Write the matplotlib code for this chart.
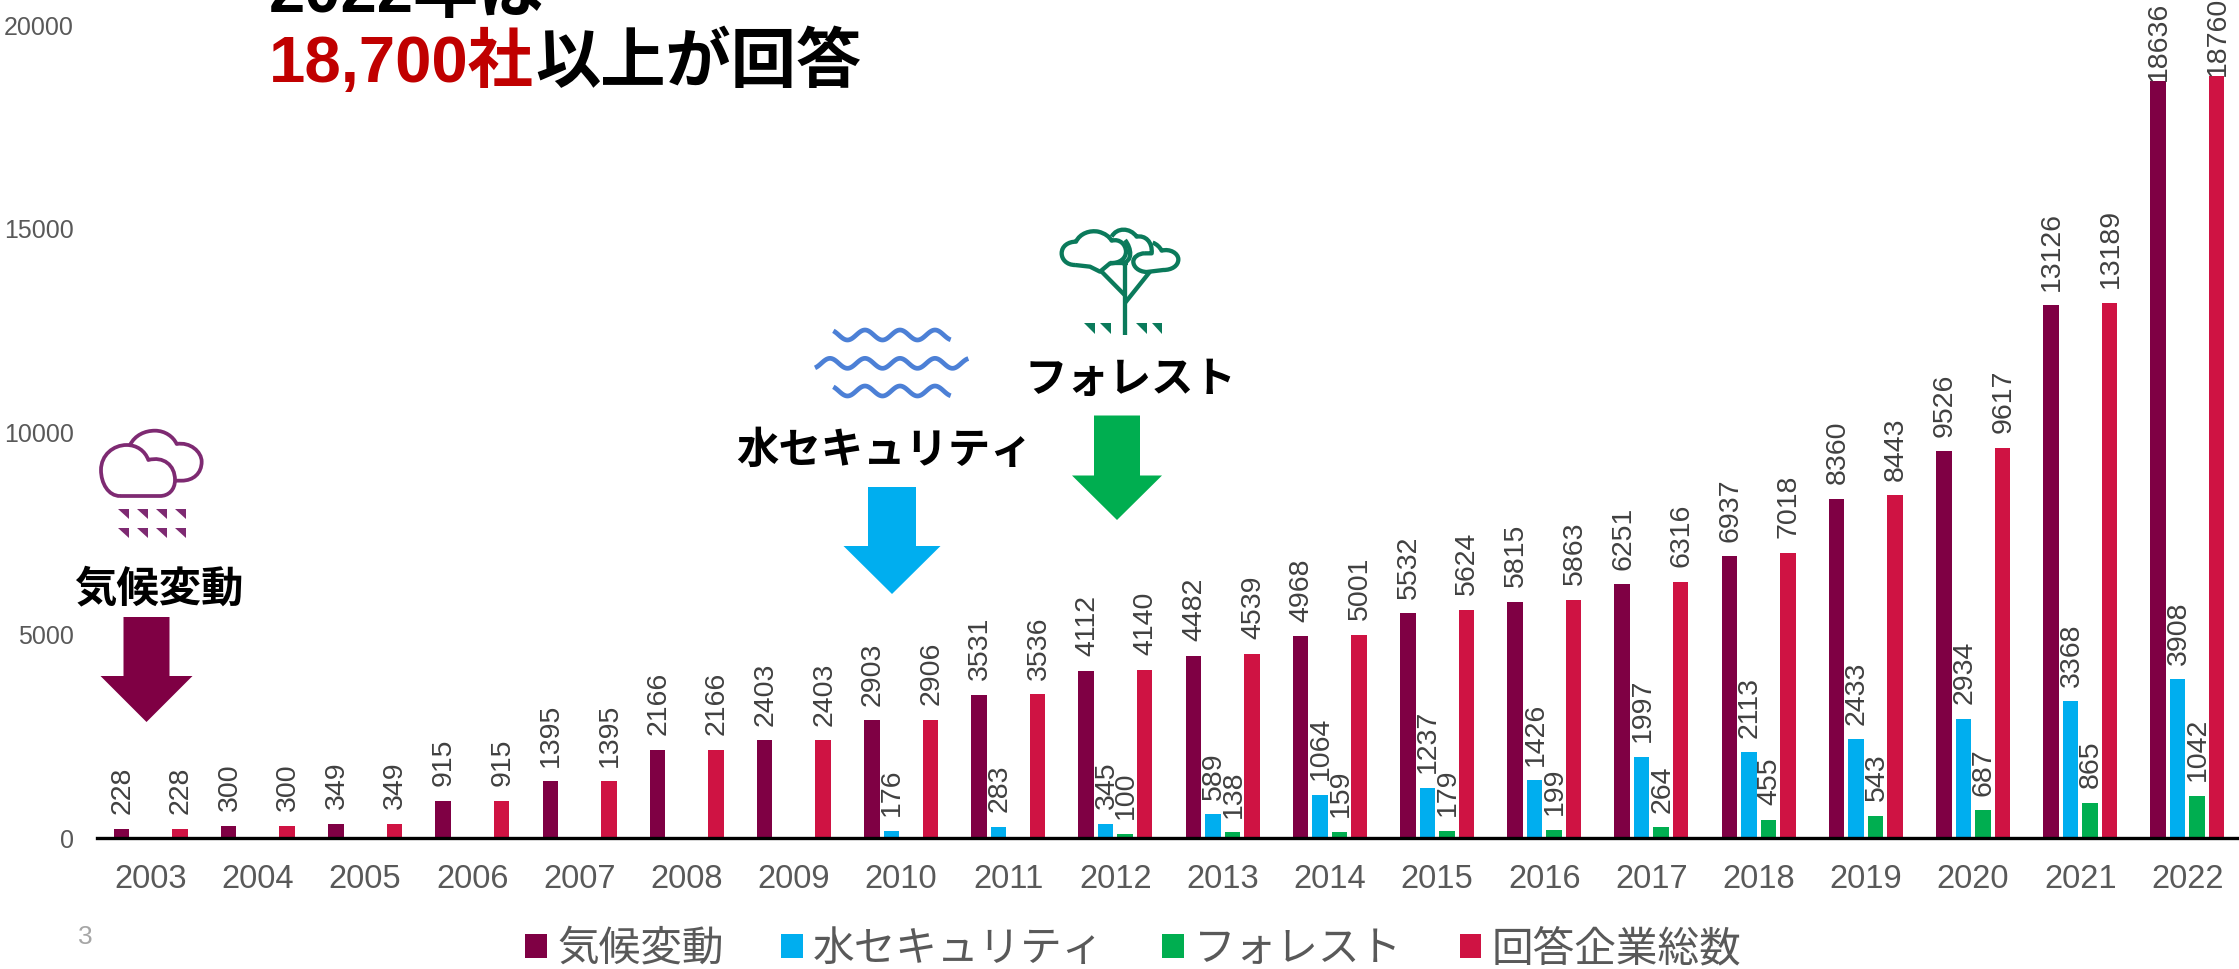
import matplotlib
matplotlib.use("Agg")
import matplotlib.pyplot as plt
import numpy as np
from matplotlib.path import Path
from matplotlib.patches import PathPatch, Polygon

plt.rcParams['font.family'] = ['Liberation Sans', 'Noto Sans CJK JP', 'DejaVu Sans']

W, H = 2239, 969

years = list(range(2003, 2023))
climate = [228, 300, 349, 915, 1395, 2166, 2403, 2903, 3531, 4112,
           4482, 4968, 5532, 5815, 6251, 6937, 8360, 9526, 13126, 18636]
water = [None] * 7 + [176, 283, 345, 589, 1064, 1237, 1426, 1997,
                      2113, 2433, 2934, 3368, 3908]
forest = [None] * 9 + [100, 138, 159, 179, 199, 264, 455, 543, 687, 865, 1042]
total = [228, 300, 349, 915, 1395, 2166, 2403, 2906, 3536, 4140,
         4539, 5001, 5624, 5863, 6316, 7018, 8443, 9617, 13189, 18760]
series_names = ['気候変動', '水セキュリティ', 'フォレスト', '回答企業総数']

PLUM = '#7F0044'
SKY = '#00AEEF'
GREEN = '#00AE50'
CRIMSON = '#CF1343'
GREY = '#595959'

fig = plt.figure(figsize=(W / 100, H / 100), dpi=100, facecolor='white')
ax = fig.add_axes([97.15 / W, (H - 838) / H, (2241 - 97.15) / W, 812 / H])

BAR_W = 15.5 / 107.2
OFFSETS = [-0.273, -0.091, 0.091, 0.273]
handles = []
for vals, off, col in zip((climate, water, forest, total), OFFSETS,
                          (PLUM, SKY, GREEN, CRIMSON)):
    xs = [i + off for i, v in enumerate(vals) if v is not None]
    ys = [v for v in vals if v is not None]
    handles.append(ax.bar(xs, ys, BAR_W, color=col, zorder=2))
    for x, y in zip(xs, ys):
        # the two tallest labels sit right on the bar, otherwise they'd run off the top
        gap = 0 if y > 18000 else 10.5
        ax.annotate(str(y), (x, y), xytext=(0.7, gap), textcoords='offset points',
                    rotation=90, ha='center', va='bottom', fontsize=20.5,
                    color='#404040', zorder=3)

ax.set_xlim(-0.5, 19.5)
ax.set_ylim(0, 20000)
ax.set_xticks(range(len(years)), [str(y) for y in years])
ax.set_yticks([0, 5000, 10000, 15000, 20000])
ax.tick_params(axis='x', length=0, pad=19, labelsize=23.5, labelcolor=GREY)
ax.tick_params(axis='y', length=0, pad=17, labelsize=18, labelcolor=GREY)
for side in ('top', 'left', 'right'):
    ax.spines[side].set_visible(False)
ax.spines['bottom'].set_linewidth(2.4)
ax.spines['bottom'].set_color('black')
ax.spines['bottom'].set_zorder(4)

# overlay in image pixels for callouts and icons
ov = fig.add_axes([0, 0, 1, 1], facecolor='none')
ov.set_xlim(0, W)
ov.set_ylim(H, 0)
ov.axis('off')


def arrow(cx, shaft_w, head_w, top, head_y, tip, col):
    s, h = shaft_w / 2, head_w / 2
    ov.add_patch(Polygon([(cx - s, top), (cx + s, top), (cx + s, head_y), (cx + h, head_y),
                          (cx, tip), (cx - h, head_y), (cx - s, head_y)],
                         closed=True, fc=col, ec='none'))


arrow(146.5, 46, 92, 617, 676, 722, PLUM)
arrow(892, 48, 97, 487, 546, 594, SKY)
arrow(1117, 46, 90, 415.5, 475.5, 520, GREEN)

for txt, x, y in ((series_names[0], 159, 590), (series_names[1], 884, 452),
                  (series_names[2], 1130, 381)):
    ov.text(x, y, txt, fontsize=30.5, fontweight='bold', ha='center', va='center',
            color='black')

ov.text(269, 12, '2022年は', fontsize=47, fontweight='bold', color='black',
        ha='left', va='baseline')
ov.text(269, 82, '18,700社', fontsize=47, fontweight='bold', color='#C00000',
        ha='left', va='baseline')
ov.text(535, 82, '以上が回答', fontsize=47, fontweight='bold', color='black',
        ha='left', va='baseline')
ov.text(85, 937, '3', fontsize=19, color='#A6A6A6', ha='center', va='center')


def curve(origin, start, segs, col, lw, close=False):
    # segs are cubic beziers in 3x zoom coordinates
    ox, oy = origin
    verts = [start]
    codes = [Path.MOVETO]
    for seg in segs:
        verts.extend(seg)
        codes.extend([Path.LINETO] if len(seg) == 1 else [Path.CURVE4] * 3)
    verts = [(ox + a / 3, oy + b / 3) for a, b in verts]
    if close:
        verts.append(verts[0])
        codes.append(Path.CLOSEPOLY)
    ov.add_patch(PathPatch(Path(verts, codes), fc='none', ec=col, lw=lw, capstyle='butt',
                           joinstyle='round'))


def tri(origin, x, y, w, h, col):
    ox, oy = origin
    ov.add_patch(Polygon([(ox + x / 3, oy + y / 3), (ox + (x + w) / 3, oy + y / 3),
                          (ox + (x + w) / 3, oy + (y + h) / 3)], closed=True, fc=col, ec='none'))


# rain cloud icon
RAIN = '#7E2A72'
o = (85, 420)
curve(o, (105, 228), [[(70, 228), (48, 190), (48, 150)],
                      [(48, 105), (85, 75), (125, 75)],
                      [(155, 75), (180, 92), (190, 120)],
                      [(235, 108), (270, 135), (270, 180)],
                      [(270, 210), (250, 228), (225, 228)],
                      [(105, 228)]], RAIN, 2.7)
curve(o, (135, 75), [[(150, 45), (180, 32), (210, 32)],
                     [(240, 32), (265, 50), (275, 72)],
                     [(315, 65), (350, 95), (350, 125)],
                     [(350, 160), (325, 182), (290, 182)],
                     [(270, 182)]], RAIN, 2.7)
for yy in (266, 324):
    for xx in (100, 157, 214, 270):
        tri(o, xx, yy, 33, 31, RAIN)

# tree icon
TREE = '#0B7A5B'
o = (1050, 220)
curve(o, (75, 135), [[(50, 135), (35, 118), (35, 100)],
                     [(35, 78), (55, 65), (78, 65)],
                     [(90, 40), (120, 30), (145, 35)],
                     [(165, 40), (178, 50), (185, 62)],
                     [(210, 55), (228, 75), (228, 95)],
                     [(228, 115), (210, 130), (180, 130)],
                     [(150, 155)], [(120, 140)], [(75, 135)]], TREE, 3.1)
curve(o, (185, 50), [[(200, 22), (240, 22), (260, 50)],
                     [(285, 45), (308, 65), (305, 100)],
                     [(285, 100)]], TREE, 3.1)
curve(o, (225, 60), [[(245, 85), (250, 125), (215, 130)]], TREE, 3.1)
curve(o, (308, 68), [[(320, 72), (330, 82), (335, 92)],
                     [(360, 85), (385, 100), (385, 118)],
                     [(385, 138), (365, 150), (340, 150)],
                     [(290, 156)],
                     [(265, 155), (250, 140), (250, 125)],
                     [(250, 112), (265, 100), (285, 100)]], TREE, 3.1)
curve(o, (224, 135), [[(224, 345)]], TREE, 3.1)
curve(o, (155, 155), [[(224, 225)]], TREE, 3.1)
curve(o, (300, 155), [[(224, 250)]], TREE, 3.1)
curve(o, (180, 130), [[(235, 130)]], TREE, 3.1)
for xx in (103, 150, 258, 305):
    tri(o, xx, 310, 32, 33, TREE)

# wave icon
for x0, x1, yc in ((85, 437, 60), (30, 490, 145), (85, 437, 228)):
    t = np.linspace(x0, x1, 120)
    ov.plot(805 + t / 3, 315 + (yc - 15 * np.cos(2 * np.pi * (t - 180) / 105)) / 3,
            color='#4C80D6', lw=3.4, solid_capstyle='butt')

leg = ov.legend([h[0] for h in handles], series_names, ncol=4, loc='center left',
                bbox_to_anchor=(525, 950), bbox_transform=ov.transData, frameon=False,
                fontsize=30, labelcolor=GREY, borderpad=0, borderaxespad=0,
                handlelength=0.52, handleheight=0.52, handletextpad=0.25, columnspacing=1.38)

fig.savefig('out.png', dpi=100)
